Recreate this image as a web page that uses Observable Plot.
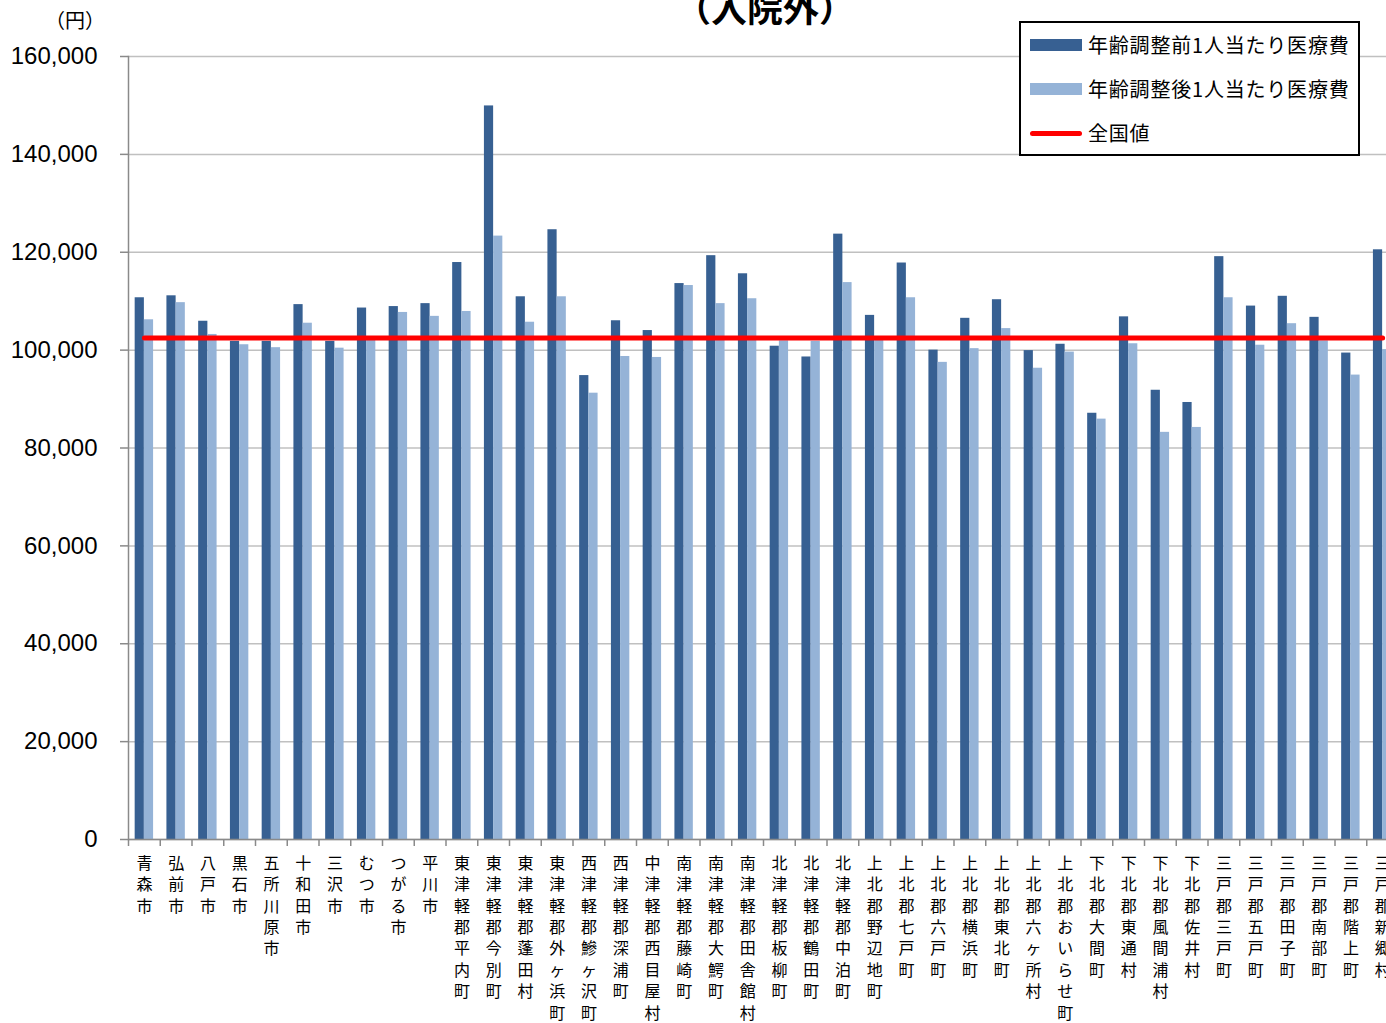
<!DOCTYPE html>
<html lang="ja">
<head>
<meta charset="utf-8">
<script src="https://cdn.jsdelivr.net/npm/d3@7"></script>
<script src="https://cdn.jsdelivr.net/npm/@observablehq/plot@0.6"></script>
<style>
  html, body { margin: 0; padding: 0; background: #fff; overflow: hidden; }
  #wrap { position: relative; width: 1386px; height: 1023px; overflow: hidden; }
  #wrap svg { max-width: none; }
  .title { position: absolute; left: 565px; width: 400px; top: -12px; text-align: center;
           font: 700 36px "Noto Sans CJK JP", sans-serif; line-height: 1; color: #000; }
  .unit { position: absolute; left: 40px; top: 7px; width: 70px; text-align: center;
          font: 20px "Noto Sans CJK JP", sans-serif; line-height: 26px; color: #000; }
  .legend { position: absolute; left: 1019px; top: 21px; width: 337px; height: 131px;
            border: 2px solid #000; background: #fff; font: 20px "Noto Sans CJK JP", sans-serif; color: #000; }
  .legend .row { position: absolute; left: 0; height: 30px; }
  .legend .sw { position: absolute; left: 9px; width: 52px; }
  .legend .lab { position: absolute; left: 67px; white-space: nowrap; letter-spacing: 0.8px; line-height: 30px; top: 0; }
</style>
</head>
<body>
<div id="wrap"></div>
<script>
// ---- data ----
const categories = [
  "青森市","弘前市","八戸市","黒石市","五所川原市","十和田市","三沢市","むつ市","つがる市","平川市",
  "東津軽郡平内町","東津軽郡今別町","東津軽郡蓬田村","東津軽郡外ヶ浜町","西津軽郡鰺ヶ沢町","西津軽郡深浦町",
  "中津軽郡西目屋村","南津軽郡藤崎町","南津軽郡大鰐町","南津軽郡田舎館村","北津軽郡板柳町","北津軽郡鶴田町",
  "北津軽郡中泊町","上北郡野辺地町","上北郡七戸町","上北郡六戸町","上北郡横浜町","上北郡東北町",
  "上北郡六ヶ所村","上北郡おいらせ町","下北郡大間町","下北郡東通村","下北郡風間浦村","下北郡佐井村",
  "三戸郡三戸町","三戸郡五戸町","三戸郡田子町","三戸郡南部町","三戸郡階上町","三戸郡新郷村"
];
const beforeAdj = [
  110700,111100,105900,101800,101800,109300,101800,108600,108900,109500,
  117900,149900,110900,124600,94800,106000,104000,113600,119300,115600,
  100800,98600,123700,107100,117800,100000,106500,110300,99900,101200,
  87100,106800,91800,89300,119100,109000,111000,106700,99400,120500
];
const afterAdj = [
  106200,109700,103200,101100,100500,105500,100400,102300,107700,106900,
  107900,123300,105700,110900,91200,98700,98500,113200,109500,110500,
  101900,101800,113800,102000,110700,97500,100300,104400,96300,99600,
  85900,101300,83200,84200,110700,101000,105400,101900,94900,100100
];
const nationalValue = 102500;
const yTicks = [0,20000,40000,60000,80000,100000,120000,140000,160000];
const seriesNames = ["年齢調整前1人当たり医療費","年齢調整後1人当たり医療費","全国値"];
const colors = ["#376092","#95b3d7","#ff0000"];

const rows = categories.map((c, i) => ({category: c, before: beforeAdj[i], after: afterAdj[i], national: nationalValue}));

const width = 1398, marginLeft = 128, marginRight = 0;
const step = (width - marginLeft - marginRight) / categories.length;
const jp = '"Noto Sans CJK JP", sans-serif';

const chart = Plot.plot({
  width, height: 1023,
  marginTop: 56, marginBottom: 184, marginLeft, marginRight,
  style: {background: "#fff", overflow: "visible"},
  x: {domain: categories, padding: 0, round: false, axis: null},
  y: {domain: [0, 160000], axis: null},
  marks: [
    Plot.gridY(yTicks, {stroke: "#c0c0c0", strokeOpacity: 1, strokeWidth: 1.5}),
    Plot.barY(rows, {x: "category", y: "before", fill: colors[0], insetLeft: step * 0.21, insetRight: step / 2}),
    Plot.barY(rows, {x: "category", y: "after", fill: colors[1], insetLeft: step / 2, insetRight: step * 0.21}),
    Plot.ruleY([0], {stroke: "#8a8a8a", strokeWidth: 1.5}),
    Plot.frame({anchor: "left", stroke: "#8a8a8a", strokeWidth: 1.5}),
    Plot.axisY({ticks: yTicks, tickSize: 8, tickPadding: 23, tickFormat: d3.format(","),
      stroke: "#8a8a8a", strokeWidth: 1.5, fill: "#000", fontSize: 24, fontFamily: '"Liberation Sans", sans-serif', label: null}),
    Plot.axisX({tickSize: 7, dx: -step / 2, text: null, stroke: "#8a8a8a", strokeWidth: 1.5, label: null}),
    Plot.axisX({tickSize: 0, tickPadding: 14, lineAnchor: "top", lineHeight: 1.34,
      tickFormat: d => [...d].join("\n"), fontSize: 16, fontFamily: jp, fill: "#000", label: null}),
    Plot.lineY(rows, {x: "category", y: "national", stroke: colors[2], strokeWidth: 5, strokeLinecap: "round"})
  ]
});

const wrap = document.getElementById("wrap");
wrap.appendChild(chart);

const title = document.createElement("div");
title.className = "title";
title.textContent = "（入院外）";
wrap.appendChild(title);

const unit = document.createElement("div");
unit.className = "unit";
unit.textContent = "（円）";
wrap.appendChild(unit);

const legend = document.createElement("div");
legend.className = "legend";
const rowTops = [7, 51, 95];
seriesNames.forEach((name, i) => {
  const r = document.createElement("div");
  r.className = "row";
  r.style.top = rowTops[i] + "px";
  r.style.width = "100%";
  const sw = document.createElement("div");
  sw.className = "sw";
  if (i < 2) {
    sw.style.height = "12px"; sw.style.top = "9px"; sw.style.background = colors[i];
  } else {
    sw.style.height = "5px"; sw.style.top = "12.5px"; sw.style.background = colors[i]; sw.style.borderRadius = "3px";
  }
  const lab = document.createElement("div");
  lab.className = "lab";
  lab.textContent = name;
  r.appendChild(sw); r.appendChild(lab);
  legend.appendChild(r);
});
wrap.appendChild(legend);
</script>
</body>
</html>
